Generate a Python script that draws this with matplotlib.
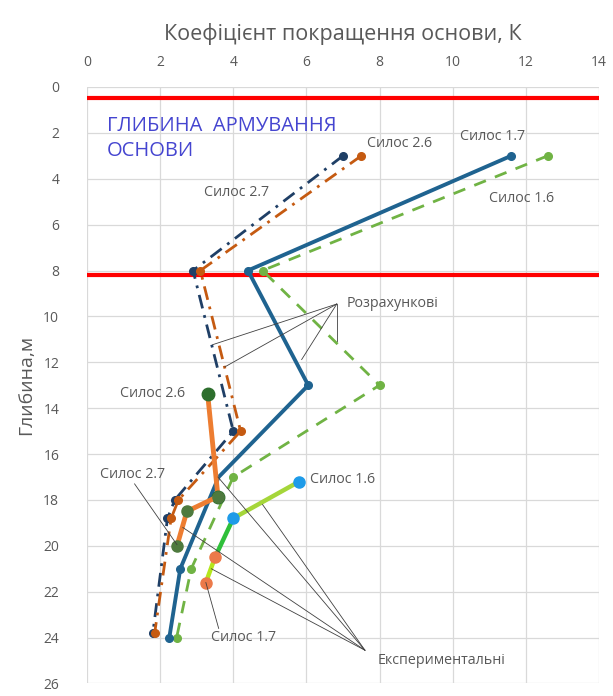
import matplotlib
matplotlib.use("Agg")
import matplotlib.pyplot as plt

plt.rcParams['font.family'] = ['Open Sans', 'DejaVu Sans']

# ---- data ----
x_ticks = [0, 2, 4, 6, 8, 10, 12, 14]
y_ticks = [0, 2, 4, 6, 8, 10, 12, 14, 16, 18, 20, 22, 24, 26]

# reinforcement depth limits (m)
reinf_depths = [0.5, 8.2]

# calculated (Розрахункові)
calc_17_k = [11.6, 4.4, 6.05, 3.6, 2.55, 2.25]
calc_17_h = [3, 8, 13, 17, 21, 24]
calc_16_k = [12.6, 4.8, 8.0, 4.0, 2.85, 2.45]
calc_16_h = [3, 8, 13, 17, 21, 24]
calc_26_k = [7.5, 3.1, 4.2, 2.5, 2.3, 1.85]
calc_26_h = [3, 8, 15, 18, 18.8, 23.8]
calc_27_k = [7.0, 2.9, 4.0, 2.4, 2.2, 1.8]
calc_27_h = [3, 8, 15, 18, 18.8, 23.8]

# experimental (Експериментальні)
exp_26_k = [3.3, 3.58]
exp_26_h = [13.4, 17.85]
exp_27_k = [3.58, 2.73, 2.46]
exp_27_h = [17.85, 18.5, 20.0]
exp_16_k = [5.8, 4.0]
exp_16_h = [17.2, 18.8]
exp_17_k = [4.0, 3.5, 3.25]
exp_17_h = [18.8, 20.5, 21.6]

GRAY = '#595959'

fig = plt.figure(figsize=(6.13, 6.96), dpi=100)
ax = fig.add_axes([0.142, 0.018, 0.835, 0.857])

ax.set_xlim(0, 14)
ax.set_ylim(26, 0)
ax.set_xticks(x_ticks)
ax.set_yticks(y_ticks)
ax.xaxis.tick_top()
ax.xaxis.set_label_position('top')
ax.tick_params(length=0, labelsize=10, labelcolor=GRAY, pad=12)
ax.tick_params(axis='y', pad=20)
ax.grid(True, color='#d9d9d9', lw=0.9)
for s in ax.spines.values():
    s.set_visible(False)
ax.set_axisbelow(True)

ax.set_xlabel('Коефіцієнт покращення основи, К', fontsize=15.5, color=GRAY, labelpad=11)
ax.set_ylabel('Глибина,м', fontsize=14, color=GRAY, labelpad=6)

# red reinforcement depth lines
for d in reinf_depths:
    ax.plot([x_ticks[0], x_ticks[-1]], [d, d], color='#ff0000', lw=3, zorder=3, solid_capstyle='round')

# calculated lines
ax.plot(calc_27_k, calc_27_h, color='#1f3f66', lw=2, ls=(0, (5, 2.5, 1, 2.5)),
        marker='o', ms=5.5, zorder=4)
ax.plot(calc_26_k, calc_26_h, color='#c55a11', lw=2, ls=(0, (5, 2.5, 1, 2.5)),
        marker='o', ms=5.5, zorder=4)
ax.plot(calc_16_k, calc_16_h, color='#70b344', lw=2, ls=(0, (4.5, 3.5)),
        marker='o', ms=5.5, zorder=4)
ax.plot(calc_17_k, calc_17_h, color='#1f6390', lw=2.8, marker='o', ms=5.5,
        markevery=[0, 1, 2, 4, 5], zorder=5)

# experimental lines
ax.plot(exp_26_k, exp_26_h, color='#ed7d31', lw=3.5, marker='o', ms=9,
        mfc='#2d6e2d', mec='#2d6e2d', zorder=6)
ax.plot(exp_27_k, exp_27_h, color='#ed7d31', lw=3.5, marker='o', ms=8,
        mfc='#4e7a3e', mec='#4e7a3e', zorder=6)
ax.plot(exp_16_k, exp_16_h, color='#a5d63a', lw=3.2, marker='o', ms=8,
        mfc='#1e9be8', mec='#1e9be8', zorder=7)
ax.plot(exp_17_k[:2], exp_17_h[:2], color='#2fbf3a', lw=3.2, zorder=6)
ax.plot(exp_17_k[1:], exp_17_h[1:], color='#b5e61d', lw=3.2, zorder=6)
ax.plot(exp_17_k[1:], exp_17_h[1:], ls='none', marker='o', ms=8,
        mfc='#ec7a4a', mec='#ec7a4a', zorder=7)

# text annotations
ax.text(0.55, 2.25, 'ГЛИБИНА  АРМУВАННЯ\nОСНОВИ', color='#4545d0', fontsize=14.5,
        va='center', ha='left', linespacing=1.3, zorder=8)

lab = dict(color=GRAY, fontsize=10.3, zorder=8)
ax.text(7.65, 2.45, 'Силос 2.6', ha='left', va='center', **lab)
ax.text(10.2, 2.15, 'Силос 1.7', ha='left', va='center', **lab)
ax.text(3.2, 4.6, 'Силос 2.7', ha='left', va='center', **lab)
ax.text(11.0, 4.85, 'Силос 1.6', ha='left', va='center', **lab)
ax.text(0.9, 13.35, 'Силос 2.6', ha='left', va='center', **lab)
ax.text(6.1, 17.1, 'Силос 1.6', ha='left', va='center', **lab)
ax.text(0.35, 16.9, 'Силос 2.7', ha='left', va='center', **lab)
ax.text(3.4, 24.0, 'Силос 1.7', ha='left', va='center', **lab)
ax.text(7.1, 9.45, 'Розрахункові', ha='left', va='center', **lab)
ax.text(7.95, 25.0, 'Експериментальні', ha='left', va='center', **lab)

lead = dict(color='#404040', lw=0.6, zorder=8)
# Розрахункові leaders
for ex, ey in [(3.44, 11.23), (3.77, 12.2), (5.87, 11.88), (6.83, 11.06)]:
    ax.plot([6.83, ex], [9.46, ey], **lead)
# Експериментальні leaders
for ex, ey in [(3.58, 17.0), (4.8, 18.2), (2.62, 19.2), (3.4, 21.0)]:
    ax.plot([7.6, ex], [24.55, ey], **lead)
# Силос 2.7 (exp) leader
ax.plot([1.3, 2.46], [17.3, 19.95], **lead)
# Силос 1.7 (exp) leader
ax.plot([3.25, 3.6], [21.6, 23.6], **lead)

fig.savefig('out.png', dpi=100)
